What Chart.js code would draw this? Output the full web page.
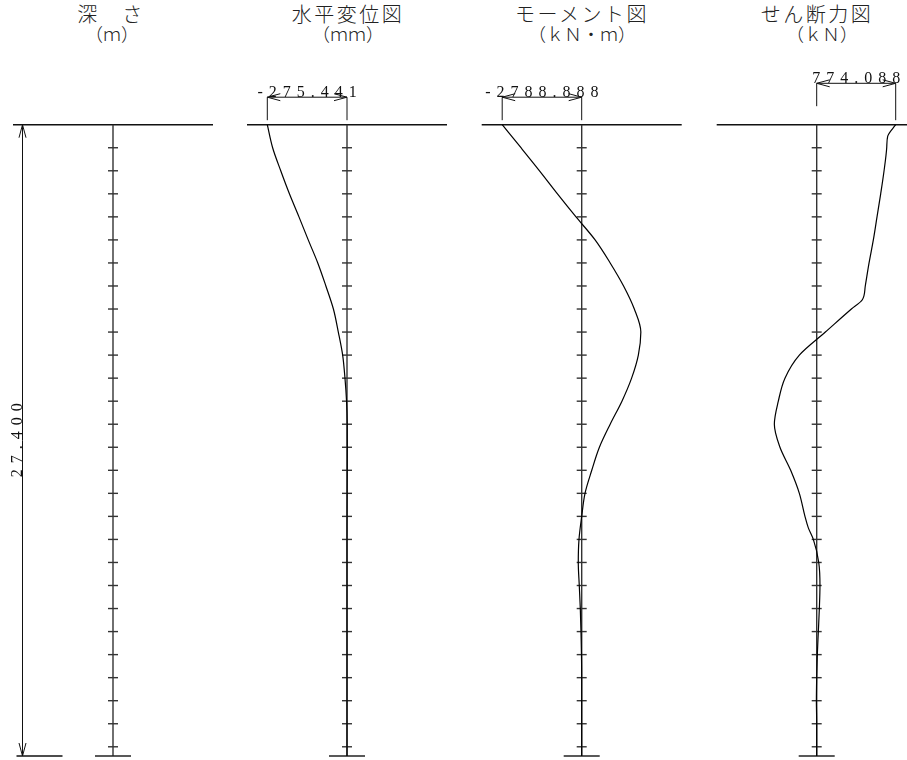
<!DOCTYPE html>
<html>
<head>
<meta charset="utf-8">
<script src="https://cdn.jsdelivr.net/npm/chart.js@4.4.0/dist/chart.umd.min.js"></script>
<style>
  body { margin: 0; background: #fff; width: 907px; height: 760px; position: relative; overflow: hidden; }
  canvas { position: absolute; top: 0; }
  .hd { position: absolute; width: 200px; text-align: center; font-family: "Noto Sans CJK JP"; font-weight: 300; color: #222; white-space: nowrap; }
  .l1 { font-size: 20px; line-height: 20px; letter-spacing: 2.5px; top: 4px; }
  .l2 { font-size: 18px; line-height: 18px; top: 24px; }
</style>
</head>
<body>
<div class="hd l1" style="left:11px">深　さ</div>
<div class="hd l2" style="left:12px">（ｍ）</div>
<div class="hd l1" style="left:248px">水平変位図</div>
<div class="hd l2" style="left:248px">（ｍｍ）</div>
<div class="hd l1" style="left:482px">モーメント図</div>
<div class="hd l2" style="left:482px">（ｋＮ・ｍ）</div>
<div class="hd l1" style="left:717px">せん断力図</div>
<div class="hd l2" style="left:722px">（ｋＮ）</div>

<canvas id="depth" width="230" height="760" style="left:0px"></canvas>
<canvas id="disp" width="235" height="760" style="left:230px"></canvas>
<canvas id="moment" width="235" height="760" style="left:465px"></canvas>
<canvas id="shear" width="207" height="760" style="left:700px"></canvas>

<script>
  // depth (m) of the pile, top = 0
  const pileLength = 27.4;
  const depths = [0, 1, 2, 3, 4, 5, 6, 7, 8, 9, 10, 11, 12, 13, 14, 15, 16, 17, 18, 19, 20, 21, 22, 23, 24, 25, 26, 27, 27.4];

  // 水平変位 (mm)
  const displacement = [-275.441, -257, -229, -199, -166, -134, -101, -73, -47, -30, -15, -7, -1.5, 0.8, 1, 0.8, 0.5, 0.2, 0, 0, 0, 0, 0, 0, 0, 0, 0, 0, 0];

  // モーメント (kN・m)
  const moment = [-2788.888, -2130, -1480, -850, -200, 470, 999, 1469, 1846, 2075, 1987, 1751, 1412, 999, 621, 353, 116, 0, -95, -120, -85, -49, -25, -8, 0, 0, 0, 0, 0];

  // せん断力 (kN)
  const shearDepths = [0, 0.5, 1, 2, 3, 4, 5, 6, 7, 7.6, 8, 9, 10, 11, 12, 13, 14, 15, 16, 17, 17.5, 18, 19, 20, 21, 22, 23, 24, 25, 26, 27, 27.4];
  const shear = [774.088, 696, 686, 660, 627, 591, 555, 513, 476, 447, 340, 85, -170, -311, -376, -415, -360, -255, -170, -115, -82, -33, 20, 32, 26, 16, 6, 0, -3, 0, 0, 0];

  const depthLabel = '27.400';

  function seg(ctx, x1, y1, x2, y2) {
    ctx.beginPath();
    ctx.moveTo(x1, y1);
    ctx.lineTo(x2, y2);
    ctx.stroke();
  }

  // open arrow head, tip at (tx,ty), pointing along (dx,dy)
  function arrow(ctx, tx, ty, dx, dy) {
    const len = 13, half = 3.5;
    const bx = tx - dx * len, by = ty - dy * len;
    ctx.beginPath();
    ctx.moveTo(bx - dy * half, by + dx * half);
    ctx.lineTo(tx, ty);
    ctx.lineTo(bx + dy * half, by - dx * half);
    ctx.stroke();
  }

  function spacedText(ctx, text, cx, cy, spacing) {
    ctx.font = '16px "Liberation Serif", "DejaVu Serif", serif';
    let w;
    if ('letterSpacing' in ctx) {
      ctx.letterSpacing = spacing + 'px';
      w = ctx.measureText(text).width - spacing;
    } else {
      w = ctx.measureText(text).width;
    }
    ctx.textAlign = 'left';
    ctx.textBaseline = 'alphabetic';
    ctx.fillText(text, cx - w / 2, cy);
  }

  const pileDecor = {
    id: 'pileDecor',
    beforeDatasetsDraw(chart, args, o) {
      const { ctx, chartArea: a } = chart;
      const x = chart.scales.x, y = chart.scales.y;
      const ax = x.getPixelForValue(0);
      const top = y.getPixelForValue(0);
      const bot = y.getPixelForValue(pileLength);
      ctx.save();
      ctx.lineCap = 'butt';

      // ground line
      ctx.strokeStyle = '#111';
      ctx.lineWidth = 1.5;
      seg(ctx, a.left, top, a.right, top);

      // pile axis with 1 m ticks
      ctx.strokeStyle = '#333';
      ctx.lineWidth = 1.4;
      seg(ctx, ax, top, ax, bot);
      for (let d = 1; d <= Math.floor(pileLength); d++) {
        const py = y.getPixelForValue(d);
        seg(ctx, ax - 5, py, ax + 5, py);
      }
      ctx.strokeStyle = '#222';
      seg(ctx, ax - 18, bot, ax + 18, bot);

      ctx.strokeStyle = '#111';
      ctx.fillStyle = '#111';
      ctx.lineWidth = 1;

      if (o.dimValue !== undefined) {
        const vx = x.getPixelForValue(o.dimValue);
        const dy = top - o.dimRise;
        seg(ctx, vx, dy, vx, top - o.valGap);
        seg(ctx, ax, dy, ax, top - o.axisGap);
        seg(ctx, vx, dy, ax, dy);
        const dir = vx < ax ? -1 : 1;
        arrow(ctx, vx, dy, dir, 0);
        arrow(ctx, ax, dy, -dir, 0);
        spacedText(ctx, o.dimText, (vx + ax) / 2, dy, 6);
      }

      if (o.depthDimX !== undefined) {
        const dx = x.getPixelForValue(o.depthDimX);
        seg(ctx, dx, top, dx, bot);
        arrow(ctx, dx, top, 0, -1);
        arrow(ctx, dx, bot, 0, 1);
        ctx.lineWidth = 1.5;
        seg(ctx, dx - 6, bot, dx + 40, bot);
        ctx.save();
        ctx.translate(dx - 1, (top + bot) / 2);
        ctx.rotate(-Math.PI / 2);
        spacedText(ctx, o.depthText, 0, 0, 6);
        ctx.restore();
      }
      ctx.restore();
    }
  };

  function makePanel(id, opts) {
    const datasets = opts.values ? [{
      data: opts.depthList.map((d, i) => ({ x: opts.values[i], y: d })),
      borderColor: '#000',
      borderWidth: 1.2,
      pointRadius: 0,
      fill: false,
      cubicInterpolationMode: 'monotone',
      clip: false
    }] : [];
    return new Chart(document.getElementById(id), {
      type: 'line',
      data: { datasets: datasets },
      options: {
        indexAxis: 'y',
        responsive: false,
        animation: false,
        devicePixelRatio: 1,
        layout: { padding: { top: 124.7, bottom: 4, left: opts.padLeft, right: opts.padRight } },
        scales: {
          x: { type: 'linear', display: false, min: opts.min, max: opts.max },
          y: { type: 'linear', display: false, reverse: true, min: 0, max: pileLength }
        },
        plugins: {
          legend: { display: false },
          tooltip: { enabled: false },
          pileDecor: opts.decor
        }
      },
      plugins: [pileDecor]
    });
  }

  // depth column
  makePanel('depth', {
    padLeft: 13, padRight: 17, min: -100, max: 100,
    decor: { depthDimX: -90.5, depthText: depthLabel }
  });

  // units per px taken from the dimension spans at the top
  const dispPer = 275.441 / 79.7;
  const momPer = 2788.888 / 79.5;
  const shearPer = 774.088 / 79;

  makePanel('disp', {
    depthList: depths, values: displacement,
    padLeft: 17, padRight: 18, min: -100 * dispPer, max: 100 * dispPer,
    decor: { dimValue: displacement[0], dimText: '-275.441', dimRise: 27.5, valGap: 4.5, axisGap: 4.5 }
  });

  makePanel('moment', {
    depthList: depths, values: moment,
    padLeft: 16.7, padRight: 18.3, min: -100 * momPer, max: 100 * momPer,
    decor: { dimValue: moment[0], dimText: '-2788.888', dimRise: 27.5, valGap: 4.5, axisGap: 4.5 }
  });

  makePanel('shear', {
    depthList: shearDepths, values: shear,
    padLeft: 16.7, padRight: 0, min: -100 * shearPer, max: 90.3 * shearPer,
    decor: { dimValue: shear[0], dimText: '774.088', dimRise: 41.4, valGap: 4.5, axisGap: 18.5 }
  });
</script>
</body>
</html>
